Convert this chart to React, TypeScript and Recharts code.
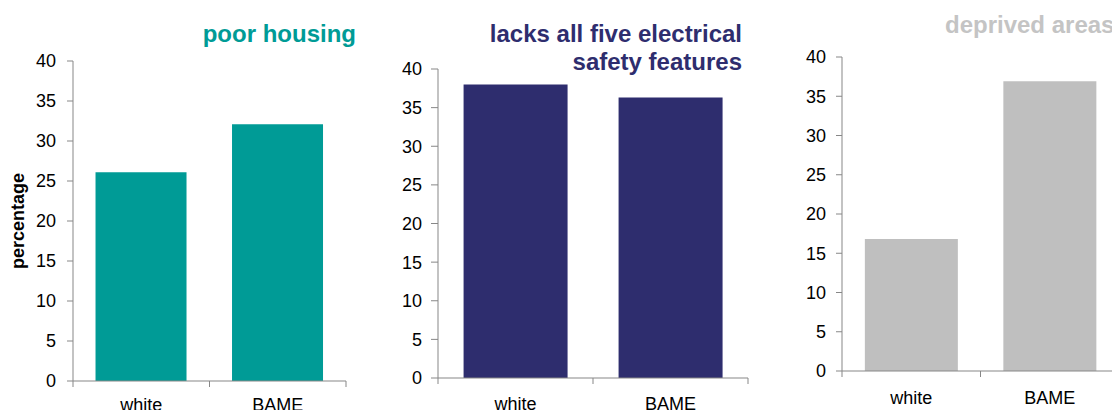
import { BarChart, Bar, XAxis, YAxis } from 'recharts'

const categories = ['white', 'BAME']
const poorHousing = [26.1, 32.1]
const noElectricalSafety = [38.0, 36.3]
const deprivedAreas = [16.8, 36.9]
const yTicks = [0, 5, 10, 15, 20, 25, 30, 35, 40]

const FONT = '"Liberation Sans", Arial, sans-serif'
const AXIS = '#878787'

// category label plus the Excel-style tick marks on the category borders
function makeCatTick(margin: number) {
  return function CatTick(props: any) {
    const { x, y, payload, index, visibleTicksCount } = props
    const half = payload.offset ?? 0
    const axisY = y - margin
    const last = index === visibleTicksCount - 1
    return (
      <g>
        <line x1={x - half} x2={x - half} y1={axisY} y2={axisY + 6} stroke={AXIS} />
        {last && <line x1={x + half} x2={x + half} y1={axisY} y2={axisY + 6} stroke={AXIS} />}
        <text x={x} y={y} dy="0.71em" textAnchor="middle" fontSize={18} fontFamily={FONT} fill="#000">
          {payload.value}
        </text>
      </g>
    )
  }
}

type PanelProps = {
  values: number[]
  color: string
  left: number
  width: number
  top: number
  right: number
  yWidth: number
  xHeight: number
  yTickSize: number
  yTickMargin: number
  xTickMargin: number
}

function Panel(p: PanelProps) {
  const data = categories.map((c, i) => ({ group: c, value: p.values[i] }))
  return (
    <div style={{ position: 'absolute', left: p.left, top: 0 }}>
      <BarChart
        width={p.width}
        height={410}
        data={data}
        margin={{ top: p.top, right: p.right, bottom: 0, left: 0 }}
        barCategoryGap="16.5%"
      >
        <XAxis
          dataKey="group"
          height={p.xHeight}
          axisLine={{ stroke: AXIS }}
          tickLine={false}
          tickSize={0}
          tickMargin={p.xTickMargin}
          interval={0}
          tick={makeCatTick(p.xTickMargin)}
        />
        <YAxis
          width={p.yWidth}
          domain={[0, 40]}
          ticks={yTicks}
          interval={0}
          axisLine={{ stroke: AXIS }}
          tickLine={{ stroke: AXIS }}
          tickSize={p.yTickSize}
          tickMargin={p.yTickMargin}
          tick={{ fill: '#000', fontSize: 18, fontFamily: FONT }}
        />
        <Bar dataKey="value" fill={p.color} isAnimationActive={false} />
      </BarChart>
    </div>
  )
}

export default function App() {
  return (
    <div style={{ position: 'absolute', left: 0, top: 0, width: 1112, height: 410, overflow: 'hidden', background: '#fff' }}>
      <Panel values={poorHousing} color="#009b96" left={0} width={360} top={61} right={14}
        yWidth={73} xHeight={29} yTickSize={6} yTickMargin={11} xTickMargin={17} />
      <Panel values={noElectricalSafety} color="#2e2d6e" left={370} width={390} top={69} right={12}
        yWidth={68} xHeight={32} yTickSize={7} yTickMargin={9} xTickMargin={19} />
      <Panel values={deprivedAreas} color="#bfbfbf" left={760} width={370} top={57} right={11}
        yWidth={82} xHeight={39} yTickSize={6} yTickMargin={10} xTickMargin={20} />

      <svg width={1112} height={410} style={{ position: 'absolute', left: 0, top: 0, pointerEvents: 'none' }}
        fontFamily={FONT} fontWeight="bold">
        <text x={356} y={42} textAnchor="end" fontSize={24} fill="#009b96">poor housing</text>
        <text x={742} y={42} textAnchor="end" fontSize={24} fill="#2e2d6e">lacks all five electrical</text>
        <text x={742} y={70} textAnchor="end" fontSize={24} fill="#2e2d6e">safety features</text>
        <text x={945} y={33} textAnchor="start" fontSize={24} fill="#c4c4c4">deprived areas</text>
        <text transform="translate(24,221) rotate(-90)" textAnchor="middle" fontSize={18} fill="#000">percentage</text>
      </svg>
    </div>
  )
}
